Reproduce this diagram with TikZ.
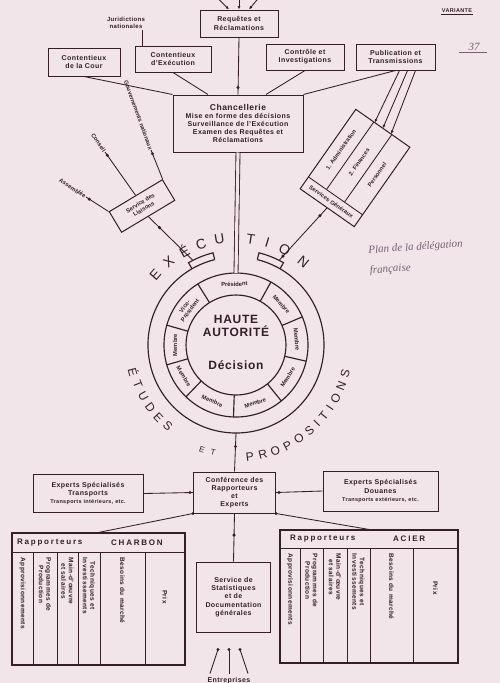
\documentclass[tikz,border=0pt]{standalone}
\usepackage{fontspec}
\setmainfont{Liberation Sans}[LetterSpace=6]
\newfontfamily\handfont{Liberation Serif}
\usepackage{tikz}
\usetikzlibrary{arrows.meta,positioning,calc}

\definecolor{paper}{RGB}{241,229,233}
\definecolor{ink}{RGB}{52,30,40}
\definecolor{pencil}{RGB}{118,96,114}

\newcommand{\boxfont}{\fontsize{7}{8.2}\selectfont\bfseries}
\newcommand{\smallfont}{\fontsize{5.5}{6.3}\selectfont\bfseries}
\newcommand{\tiltfont}{\fontsize{5.8}{6.6}\selectfont\bfseries\addfontfeature{LetterSpace=0}}
\newcommand{\colfont}{\fontsize{6.5}{7.5}\selectfont\bfseries}
\newcommand{\hdrfont}{\fontsize{8}{8}\selectfont\bfseries\addfontfeature{LetterSpace=22}}
\newcommand{\arcfont}{\fontsize{14}{14}\selectfont}
\newcommand{\inkdot}[1]{\fill[ink] #1 circle (1.7pt);}

\tikzset{
  boxnode/.style={draw=ink, line width=1pt, fill=paper, text=ink, align=center, inner sep=1.5pt, font=\boxfont},
  plaintxt/.style={text=ink, align=center, inner sep=1pt, font=\boxfont},
  smalltxt/.style={text=ink, align=center, inner sep=0.5pt, font=\smallfont},
  tilttxt/.style={text=ink, align=center, inner sep=0.5pt, font=\tiltfont},
  linkln/.style={ink, line width=0.85pt},
  ringln/.style={ink, line width=1.15pt},
  arcletter/.style={text=ink, inner sep=0pt, font=\arcfont},
  hand/.style={text=pencil, inner sep=1pt, font=\handfont\itshape\fontsize{11}{20}\selectfont},
  tipin/.style={-{Latex[length=3.5pt,width=3pt]}},
}

\begin{document}
\begin{tikzpicture}[x=1pt, y=1pt]
  \fill[paper] (0,0) rectangle (500,-683);
  \useasboundingbox (0,0) rectangle (500,-683);

  % upper row of services
  \node[boxnode, minimum width=78pt, minimum height=27pt] (req) at (239,-23.5) {Requêtes et\\Réclamations};
  \node[plaintxt, font=\fontsize{6}{7}\selectfont\bfseries] (jur) at (126,-23) {Juridictions\\nationales};
  \node[boxnode, minimum width=72pt, minimum height=28pt] (cour) at (84,-62) {Contentieux\\de la Cour};
  \node[boxnode, minimum width=76pt, minimum height=26pt] (cexe) at (173,-59) {Contentieux\\d'Exécution};
  \node[boxnode, minimum width=78pt, minimum height=26pt] (ctrl) at (305,-57) {Contrôle et\\Investigations};
  \node[boxnode, minimum width=79pt, minimum height=26pt] (pub) at (395.5,-57) {Publication et\\Transmissions};
  \node[boxnode, minimum width=130pt, minimum height=57pt] (chanc) at (238,-123.5)
    {{\fontsize{8.5}{10}\selectfont Chancellerie}\\Mise en forme des décisions\\Surveillance de l'Exécution\\Examen des Requêtes et\\Réclamations};

  \foreach \sx/\ex [count=\i] in {-22/-10, 0/0, 20/10} {
    \coordinate (reqin\i) at ($(req.north)+(\sx,12)$);
    \draw[linkln, tipin] (reqin\i) -- ($(req.north)+(\ex,0)$);
  }
  \coordinate (jurfoot) at ([xshift=16pt]jur.south);
  \draw[linkln] (jurfoot) -- (jurfoot |- cexe.north);
  \draw[linkln] (cour.south) -- (chanc.north west);
  \draw[linkln] (cexe.south) -- (chanc.136);
  \draw[linkln] (ctrl.south) -- (chanc.46);
  \draw[linkln] (pub.south) -- (chanc.north east);
  \draw[linkln] (req.south) -- (chanc.north);
  \inkdot{($(chanc.north)+(0,7)$)}

  % the High Authority ring
  \coordinate (hc) at (236,-345);
  \node[circle, draw=ink, line width=1.15pt, minimum size=100pt, inner sep=0pt] (ha) at (hc) {};
  \draw[ringln] (hc) circle[radius=72];
  \foreach \a in {122,61,23,-13,-51,-92,-134,-164,164}
    \draw[ringln] ($(hc)+(\a:50)$) -- ($(hc)+(\a:72)$);
  \foreach \a/\lab [count=\i] in {91.5/Président, 143/{Vice-\\Président}, 42/Membre, 5/Membre,
      -32/Membre, -71.5/Membre, -113/Membre, -149/Membre, 180/Membre} {
    \pgfmathsetmacro{\rot}{ifthenelse(\a>0,\a-90,\a+90)}
    \node[tilttxt, rotate=\rot] (sect\i) at ($(hc)+(\a:61)$) {\lab};
  }
  \node[text=ink, font=\fontsize{12}{13.5}\selectfont\bfseries, align=center] (hatitle) at ($(hc)+(0,19)$) {HAUTE\\AUTORITÉ};
  \node[text=ink, font=\fontsize{12}{13}\selectfont\bfseries] (hadec) at ($(hc)+(0,-20)$) {Décision};

  % open channel with its two tabs
  \draw[ringln] ($(hc)+(104:88)$) arc[start angle=104, end angle=270, radius=88] coordinate (chanbot);
  \draw[ringln] ($(hc)+(76:88)$) arc[start angle=76, end angle=-90, radius=88];
  \draw[ringln] ($(hc)+(104:88)$) -- ($(hc)+(104:95)$) arc[start angle=104, end angle=120, radius=95] -- ($(hc)+(120:88)$);
  \draw[ringln] ($(hc)+(60:88)$) -- ($(hc)+(60:95)$) arc[start angle=60, end angle=76, radius=95] -- ($(hc)+(76:88)$);
  \coordinate (tabL) at ($(hc)+(117:95)$);
  \coordinate (tabR) at ($(hc)+(63:95)$);
  \coordinate (ringtop) at ($(hc)+(90:72)$);
  \draw[ink, line width=0.85pt, double=paper, double distance=3.2pt] (chanc.south) -- (ringtop);

  % lettering round the ring
  \foreach \ang/\ch in {139/E, 129/X, 119/É, 109/C, 99/U, 82/T, 73/I, 63/O, 51/N}
    \node[arcletter, rotate=\ang-90] (exe\ang) at ($(hc)+(\ang:107)$) {\ch};
  \foreach \ang/\ch in {195/É, 202/T, 209/U, 216/D, 223/E, 230/S}
    \node[arcletter, font=\fontsize{12}{12}\selectfont, rotate=\ang+90] (etu\ang) at ($(hc)+(\ang:106)$) {\ch};
  \foreach \ang/\ch in {252/E, 258/T}
    \node[arcletter, font=\fontsize{8}{8}\selectfont, rotate=\ang+90] (et\ang) at ($(hc)+(\ang:110)$) {\ch};
  \foreach \ang/\ch [count=\i] in {277/P, 283.7/R, 290.4/O, 297.1/P, 303.8/O, 310.5/S, 315.7/I,
      320.9/T, 326.1/I, 331.8/O, 338.5/N, 345.2/S}
    \node[arcletter, font=\fontsize{12}{12}\selectfont, rotate=\ang+90] (prop\i) at ($(hc)+(\ang:113)$) {\ch};

  % liaison service, left
  \node[boxnode, font=\tiltfont, rotate=31, minimum width=62pt, minimum height=24pt] (liais) at (142,-206) {Service des\\Liaisons};
  \node[tilttxt, rotate=-33, anchor=east] (lab1) at (86,-197) {Assemblée};
  \node[tilttxt, rotate=-55, anchor=east] (lab2) at (105,-152) {Conseil};
  \node[tilttxt, rotate=-70, anchor=east] (lab3) at (151,-150) {Gouvernements nationaux};
  \draw[linkln] (lab1.east) -- (liais.north west);
  \draw[linkln] (lab2.east) -- (liais.north);
  \draw[linkln] (lab3.east) -- (liais.north east);
  \inkdot{($(lab1.east)!4pt!(liais.north west)$)}
  \inkdot{($(lab2.east)!4pt!(liais.north)$)}
  \inkdot{($(lab3.east)!4pt!(liais.north east)$)}
  \draw[linkln] (liais.south) -- (tabL);
  \inkdot{($(liais.south)!0.25!(tabL)$)}

  % administrative services, right
  \begin{scope}[shift={(355,-168)}, rotate=-35, transform shape]
    \node[draw=ink, line width=1pt, fill=paper, minimum width=66pt, minimum height=97pt, inner sep=0pt] (adm) at (0,0) {};
    \draw[linkln] (-33,-34) -- (33,-34);
    \foreach \cx in {-11,11} \draw[linkln] (\cx,-34) -- (\cx,48.5);
    \node[tilttxt] (admfoot) at (0,-41.25) {Services Généraux};
    \foreach \cx/\txt [count=\i] in {-22/1. Administration, 0/2. Finances, 22/Personnel}
      \node[tilttxt, rotate=90] (admcol\i) at (\cx,7) {\txt};
    \coordinate (admtop1) at (-10,48.5);
    \coordinate (admtop2) at (0,48.5);
    \coordinate (admtop3) at (10,48.5);
    \coordinate (admbot) at (0,-48.5);
  \end{scope}
  \foreach \i/\sx in {1/4, 2/12, 3/20}
    \draw[linkln, tipin] ($(pub.south)+(\sx,0)$) -- (admtop\i);
  \draw[linkln] (admbot) -- (tabR);
  \inkdot{($(admbot)!0.15!(tabR)$)}
  \inkdot{($(admbot)!0.92!(tabR)$)}

  % conference and experts
  \node[boxnode, minimum width=82pt, minimum height=41pt] (conf) at (234.5,-492.5) {Conférence des\\Rapporteurs\\et\\Experts};
  \node[boxnode, minimum width=110pt, minimum height=38pt] (trans) at (88,-493.5) {Experts Spécialisés\\Transports\\{\smallfont Transports intérieurs, etc.}};
  \node[boxnode, minimum width=115pt, minimum height=40pt] (douan) at (380.5,-491) {Experts Spécialisés\\Douanes\\{\smallfont Transports extérieurs, etc.}};
  \draw[linkln] (chanbot) -- (conf.north);
  \inkdot{($(chanbot)!0.35!(conf.north)$)}
  \draw[linkln] (trans.east) -- (conf.west);
  \inkdot{($(conf.west)+(-3,0)$)}
  \draw[linkln] (douan.west) -- (conf.east);
  \inkdot{($(conf.east)+(3,0)$)}

  % coal rapporteurs
  \node[draw=ink, line width=1.1pt, minimum width=173pt, minimum height=132pt, inner sep=0pt] (charbon) at (98.5,-599) {};
  \draw[linkln] (12,-552) -- (185,-552);
  \foreach \cx in {33,57,78,100,145} \draw[linkln] (\cx,-552) -- (\cx,-665);
  \node[plaintxt, anchor=west, font=\hdrfont] (charbonhd) at (16,-542.5) {Rapporteurs};
  \node[plaintxt, anchor=west, font=\hdrfont] (charbonmat) at (110,-542.5) {CHARBON};
  \foreach \cx/\txt [count=\i] in {22.5/Approvisionnements, 45/{Programmes de\\Production}, 67.5/{Main-d'œuvre\\et salaires},
      89/{Techniques et\\Investissements}, 122.5/Besoins du marché}
    \node[smalltxt, font=\colfont, rotate=-90, anchor=west] (cbcol\i) at (\cx,-557) {\txt};
  \node[smalltxt, font=\colfont, rotate=-90] (cbprix) at (165,-597) {Prix};

  % steel rapporteurs
  \node[draw=ink, line width=1.1pt, minimum width=178pt, minimum height=133pt, inner sep=0pt] (acier) at (369,-596.5) {};
  \draw[linkln] (280,-548) -- (458,-548);
  \foreach \cx in {300,323,347,370,413} \draw[linkln] (\cx,-548) -- (\cx,-663);
  \node[plaintxt, anchor=west, font=\hdrfont] (acierhd) at (289,-539) {Rapporteurs};
  \node[plaintxt, anchor=west, font=\hdrfont] (aciermat) at (392,-539) {ACIER};
  \foreach \cx/\txt [count=\i] in {290/Approvisionnements, 311.5/{Programmes de\\Production}, 335/{Main-d'œuvre\\et salaires},
      358.5/{Techniques et\\Investissements}, 391.5/Besoins du marché}
    \node[smalltxt, font=\colfont, rotate=-90, anchor=west] (accol\i) at (\cx,-553) {\txt};
  \node[smalltxt, font=\colfont, rotate=-90] (acprix) at (435.5,-588) {Prix};

  \draw[linkln] (conf.south west) -- (charbon.north);
  \draw[linkln] (conf.south east) -- (acier.north);
  \inkdot{(conf.south west)}
  \inkdot{(conf.south east)}

  % statistics
  \node[boxnode, minimum width=74pt, minimum height=70pt] (stat) at (233.5,-597) {Service de\\Statistiques\\et de\\Documentation\\générales};
  \draw[linkln] (conf.south) -- (stat.north);
  \inkdot{($(conf.south)!0.45!(stat.north)$)}
  \node[plaintxt] (entr) at (229,-681) {Entreprises};
  \foreach \dx/\tx in {-19/-11, 0/0, 19/11} {
    \draw[linkln] ($(entr.north)+(\dx,3)$) -- ($(entr.north)+(\tx,27)$);
    \inkdot{($(entr.north)+(\tx,27)$)}
  }

  % margin notes
  \node[plaintxt, font=\fontsize{5.5}{6}\selectfont\bfseries] (variante) at (457,-11) {VARIANTE};
  \draw[linkln, line width=0.9pt] (variante.south west) -- (variante.south east);
  \node[hand] (folio) at (474,-47) {37};
  \draw[pencil, line width=0.6pt] ([xshift=-8pt]folio.south west) -- ([xshift=6pt]folio.south east);
  \node[hand, align=left, anchor=west, rotate=4] (plan) at (368,-261) {Plan de la délégation\\française};
\end{tikzpicture}
\end{document}
